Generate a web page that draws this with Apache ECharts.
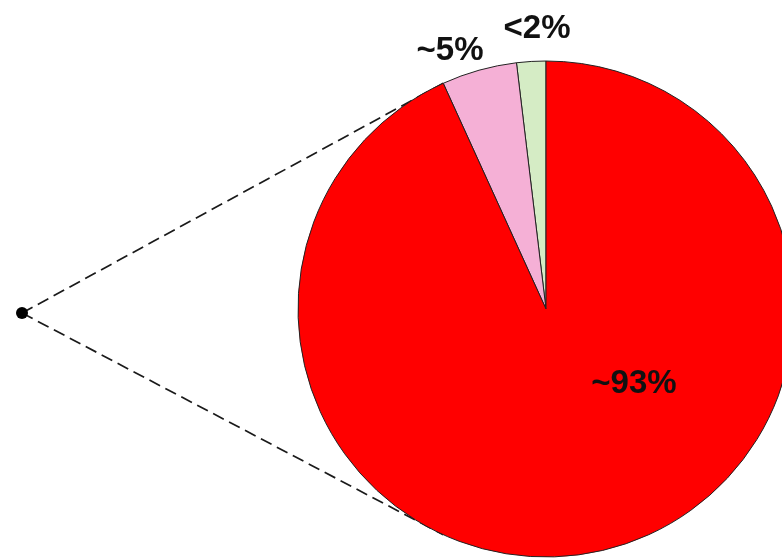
<!DOCTYPE html>
<html>
<head>
<meta charset="utf-8">
<script src="https://cdn.jsdelivr.net/npm/echarts@6/dist/echarts.min.js"></script>
<style>
html,body{margin:0;padding:0;background:#fff;}
#main{width:782px;height:560px;}
</style>
</head>
<body>
<div id="main"></div>
<script>
var categories = ['<2%', '~5%', '~93%'];
var values = [1.9, 4.9, 93.2];
var colors = ['#d5ecc5', '#f5b0d6', '#ff0000'];

var CX = 546, CY = 309, R = 248;
var DOT = [22, 313];
// label anchor offsets relative to pie center
var labelOffsets = [[-9, -280], [-96, -258], [88, 75]];

var total = values.reduce(function (a, b) { return a + b; }, 0);
var endAngle = 90 + (values[0] + values[1]) / total * 360;
var rad = endAngle * Math.PI / 180;
var upper = [CX + R * Math.cos(rad), CY - R * Math.sin(rad)];
var lower = [CX + R * Math.cos(rad), CY + R * Math.sin(rad)];

var chart = echarts.init(document.getElementById('main'));
chart.setOption({
  backgroundColor: '#ffffff',
  animation: false,
  graphic: [
    { type: 'line', z: 0, shape: { x1: DOT[0], y1: DOT[1], x2: upper[0], y2: upper[1] },
      style: { stroke: '#1a1a1a', lineWidth: 1.7, lineDash: [12, 6] } },
    { type: 'line', z: 0, shape: { x1: DOT[0], y1: DOT[1], x2: lower[0], y2: lower[1] },
      style: { stroke: '#1a1a1a', lineWidth: 1.7, lineDash: [12, 6] } },
    { type: 'circle', z: 1, shape: { cx: DOT[0], cy: DOT[1], r: 6 }, style: { fill: '#000' } }
  ],
  series: [{
    type: 'pie',
    z: 5,
    center: [CX, CY],
    radius: R,
    startAngle: 90,
    clockwise: false,
    silent: true,
    data: categories.map(function (c, i) {
      return { name: c, value: values[i], itemStyle: { color: colors[i] } };
    }),
    itemStyle: { borderColor: '#222', borderWidth: 1 },
    label: {
      show: true,
      position: 'inside',
      formatter: '{b}',
      color: '#111',
      fontFamily: 'Liberation Sans, Arial, sans-serif',
      fontSize: 33,
      fontWeight: 'bold'
    },
    labelLine: { show: false },
    labelLayout: function (p) {
      var o = labelOffsets[p.dataIndex];
      return { x: CX + o[0], y: CY + o[1], align: 'center', verticalAlign: 'middle' };
    }
  }]
});
</script>
</body>
</html>
